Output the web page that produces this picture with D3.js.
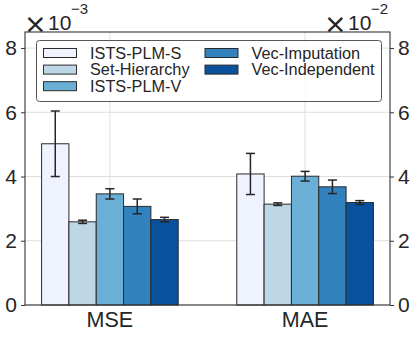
<!DOCTYPE html>
<html>
<head>
<meta charset="utf-8">
<script src="https://cdn.jsdelivr.net/npm/d3@7"></script>
<style>
  body { margin: 0; background: #fff; }
  text { font-family: "Liberation Sans", Arial, sans-serif; fill: #262626; }
</style>
</head>
<body>
<script>
const methods = ['ISTS-PLM-S', 'Set-Hierarchy', 'ISTS-PLM-V', 'Vec-Imputation', 'Vec-Independent']
const metrics = ['MSE', 'MAE']
const colors = ['#eff3ff', '#bdd7e7', '#6baed6', '#3182bd', '#08519c']

// MSE in units of 1e-3 (left axis), MAE in units of 1e-2 (right axis)
const mseMean = [5.02, 2.59, 3.46, 3.07, 2.66]
const mseErr = [1.02, 0.05, 0.16, 0.23, 0.07]
const maeMean = [4.08, 3.14, 4.01, 3.68, 3.19]
const maeErr = [0.64, 0.04, 0.15, 0.21, 0.06]

const yTicks = [0, 2, 4, 6, 8]

const W = 415, H = 338
const margins = { top: 32, right: 25, bottom: 33, left: 25 }
const barW = 0.14

let svg = d3.select('body').append('svg')
  .attr('width', W)
  .attr('height', H)

let x = d3.scaleLinear()
  .domain([-0.435, 1.435])
  .range([margins.left, W - margins.right])

let yL = d3.scaleLinear()
  .domain([0, 8.5])
  .range([H - margins.bottom, margins.top])

let yR = d3.scaleLinear()
  .domain([0, 8.5])
  .range([H - margins.bottom, margins.top])

// grid
svg.append('g')
  .selectAll('line')
  .data(yTicks)
  .enter().append('line')
    .attr('x1', margins.left).attr('x2', W - margins.right)
    .attr('y1', yL).attr('y2', yL)
    .attr('stroke', '#dedede').attr('stroke-width', 1)

svg.append('g')
  .selectAll('line')
  .data(metrics)
  .enter().append('line')
    .attr('x1', (d, i) => x(i)).attr('x2', (d, i) => x(i))
    .attr('y1', margins.top).attr('y2', H - margins.bottom)
    .attr('stroke', '#dedede').attr('stroke-width', 1)

let rows = [
  { y: yL, mean: mseMean, err: mseErr },
  { y: yR, mean: maeMean, err: maeErr }
]

let bars = []
rows.forEach((r, g) => {
  methods.forEach((m, i) => {
    bars.push({ g: g, i: i, y: r.y, v: r.mean[i], e: r.err[i] })
  })
})

svg.append('g')
  .selectAll('rect')
  .data(bars)
  .enter().append('rect')
    .attr('x', (d) => x(d.g + (d.i - 2) * barW - barW / 2))
    .attr('width', (d) => x(barW) - x(0))
    .attr('y', (d) => d.y(d.v))
    .attr('height', (d) => d.y(0) - d.y(d.v))
    .attr('fill', (d) => colors[d.i])
    .attr('stroke', '#2b2b2b')
    .attr('stroke-width', 1)

// error bars
let eb = svg.append('g')
  .selectAll('g')
  .data(bars)
  .enter().append('g')
    .attr('stroke', '#262626')
    .attr('stroke-width', 1.5)

eb.append('line')
  .attr('x1', (d) => x(d.g + (d.i - 2) * barW))
  .attr('x2', (d) => x(d.g + (d.i - 2) * barW))
  .attr('y1', (d) => d.y(d.v - d.e))
  .attr('y2', (d) => d.y(d.v + d.e))

;[-1, 1].forEach((s) => {
  eb.append('line')
    .attr('x1', (d) => x(d.g + (d.i - 2) * barW) - 4.5)
    .attr('x2', (d) => x(d.g + (d.i - 2) * barW) + 4.5)
    .attr('y1', (d) => d.y(d.v + s * d.e))
    .attr('y2', (d) => d.y(d.v + s * d.e))
})

// axes
let left = svg.append('g')
  .attr('transform', 'translate(' + margins.left + ',0)')
  .call(d3.axisLeft(yL).tickValues(yTicks).tickSize(4).tickPadding(4))
let right = svg.append('g')
  .attr('transform', 'translate(' + (W - margins.right) + ',0)')
  .call(d3.axisRight(yR).tickValues(yTicks).tickSize(4).tickPadding(4))

;[left, right].forEach((a) => {
  a.select('.domain').remove()
  a.selectAll('line').attr('stroke', '#333')
  a.selectAll('text')
    .attr('font-size', 21)
})

svg.append('g')
  .selectAll('text')
  .data(metrics)
  .enter().append('text')
    .attr('x', (d, i) => x(i))
    .attr('y', H - 11)
    .attr('text-anchor', 'middle')
    .attr('font-size', 21.5)
    .text((d) => d)

// frame
svg.append('rect')
  .attr('x', margins.left).attr('y', margins.top)
  .attr('width', W - margins.left - margins.right)
  .attr('height', H - margins.top - margins.bottom)
  .attr('fill', 'none')
  .attr('stroke', '#333')
  .attr('stroke-width', 1.1)

// offset labels (×10^-3 left, ×10^-2 right)
function offset(xp, exp) {
  let g = svg.append('g').attr('transform', 'translate(' + xp + ',0)')
  g.append('text').attr('x', -3.5).attr('y', 32.5)
    .style('font-family', '"DejaVu Sans", sans-serif')
    .attr('font-size', 27).text('×')
  g.append('text').attr('x', 20.5).attr('y', 30).attr('font-size', 21).text('10')
  g.append('text').attr('x', 43.5).attr('y', 13.5).attr('font-size', 15).text('−' + exp)
}
offset(27.5, 3)
offset(327.5, 2)

// legend
let lg = svg.append('g')
lg.append('rect')
  .attr('x', 36.5).attr('y', 40.5)
  .attr('width', 345).attr('height', 61)
  .attr('rx', 3)
  .attr('fill', 'rgba(255,255,255,0.85)')
  .attr('stroke', '#555')
  .attr('stroke-width', 1)

let items = lg.selectAll('g.item')
  .data(methods)
  .enter().append('g')
    .attr('class', 'item')
    .attr('transform', (d, i) => {
      let col = i < 3 ? 0 : 1
      let row = i < 3 ? i : i - 3
      return 'translate(' + [col ? 205 : 43.5, 53 + row * 16.6] + ')'
    })

items.append('rect')
  .attr('x', 0).attr('y', -4.5)
  .attr('width', 33).attr('height', 9)
  .attr('fill', (d, i) => colors[i])
  .attr('stroke', '#2b2b2b')
  .attr('stroke-width', 1)

items.append('text')
  .attr('x', 46.5).attr('y', 5.5)
  .attr('font-size', 16.3)
  .text((d) => d)
</script>
</body>
</html>
